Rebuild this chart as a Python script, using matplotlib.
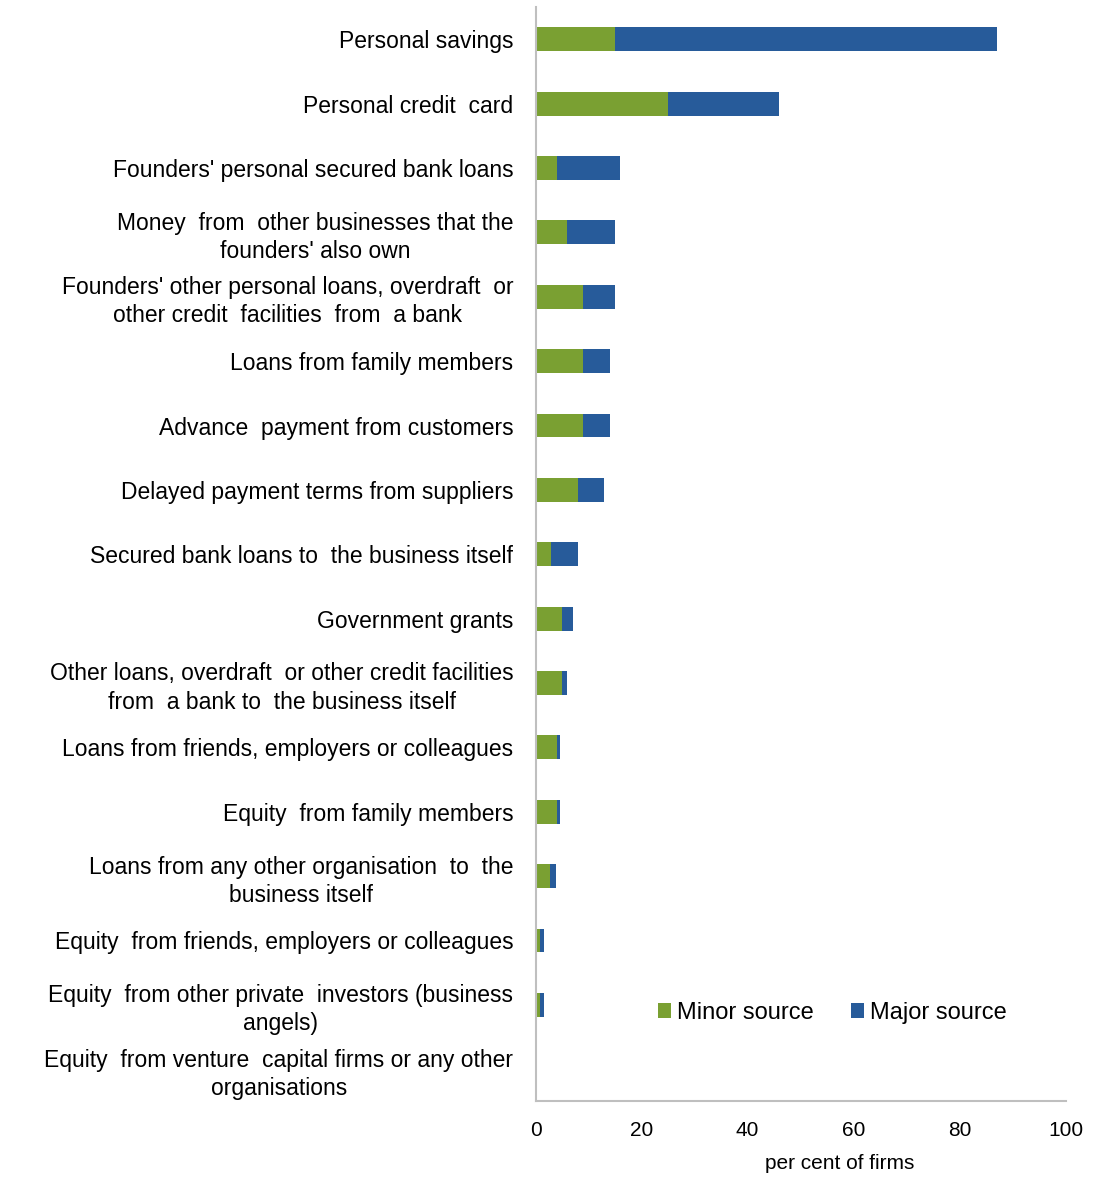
import matplotlib.pyplot as plt
import numpy as np

plt.rcParams["font.family"] = ["Liberation Sans", "DejaVu Sans"]

SOURCES = [
    "Personal savings",
    "Personal credit  card",
    "Founders' personal secured bank loans",
    "Money  from  other businesses that the\nfounders' also own",
    "Founders' other personal loans, overdraft  or\nother credit  facilities  from  a bank",
    "Loans from family members",
    "Advance  payment from customers",
    "Delayed payment terms from suppliers",
    "Secured bank loans to  the business itself",
    "Government grants",
    "Other loans, overdraft  or other credit facilities\nfrom  a bank to  the business itself",
    "Loans from friends, employers or colleagues",
    "Equity  from family members",
    "Loans from any other organisation  to  the\nbusiness itself",
    "Equity  from friends, employers or colleagues",
    "Equity  from other private  investors (business\nangels)",
    "Equity  from venture  capital firms or any other\norganisations",
]
minor_source = [15, 25, 4, 6, 9, 9, 9, 8, 3, 5, 5, 4.0, 4.0, 2.8, 0.9, 0.9, 0]
major_source = [72, 21, 12, 9, 6, 5, 5, 5, 5, 2, 1, 0.7, 0.7, 1.1, 0.6, 0.6, 0]

GREEN = "#7AA032"
BLUE = "#275B9A"
AXIS_GREY = "#BFBFBF"


def main():
    fig = plt.figure(figsize=(10.93, 11.78), dpi=100)
    ax = fig.add_axes([0.49, 0.065, 0.485, 0.929])

    y = np.arange(len(SOURCES))
    ax.barh(y, minor_source, height=0.37, color=GREEN, label="Minor source")
    ax.barh(y, major_source, left=minor_source, height=0.37, color=BLUE,
            label="Major source")

    ax.set_ylim(len(SOURCES) - 0.5, -0.5)
    ax.set_xlim(0, 100)
    ax.set_xticks([0, 20, 40, 60, 80, 100])
    ax.set_yticks(y)
    ax.set_yticklabels(SOURCES, fontsize=16.5, multialignment="center",
                       linespacing=1.28)
    ax.tick_params(axis="both", length=0)
    ax.tick_params(axis="x", labelsize=15, pad=14)
    ax.tick_params(axis="y", pad=16)

    for side in ["top", "right"]:
        ax.spines[side].set_visible(False)
    for side in ["left", "bottom"]:
        ax.spines[side].set_color(AXIS_GREY)
        ax.spines[side].set_linewidth(1.5)

    ax.set_xlabel("per cent of firms", fontsize=15)
    ax.xaxis.set_label_coords(0.574, -0.048)

    ax.legend(loc="center", bbox_to_anchor=(0.56, 0.081), ncol=2, frameon=False,
              fontsize=17, handlelength=0.55, handleheight=0.55, handletextpad=0.25,
              columnspacing=1.6)

    fig.savefig("out.png", dpi=100)
    plt.close(fig)


if __name__ == "__main__":
    main()
